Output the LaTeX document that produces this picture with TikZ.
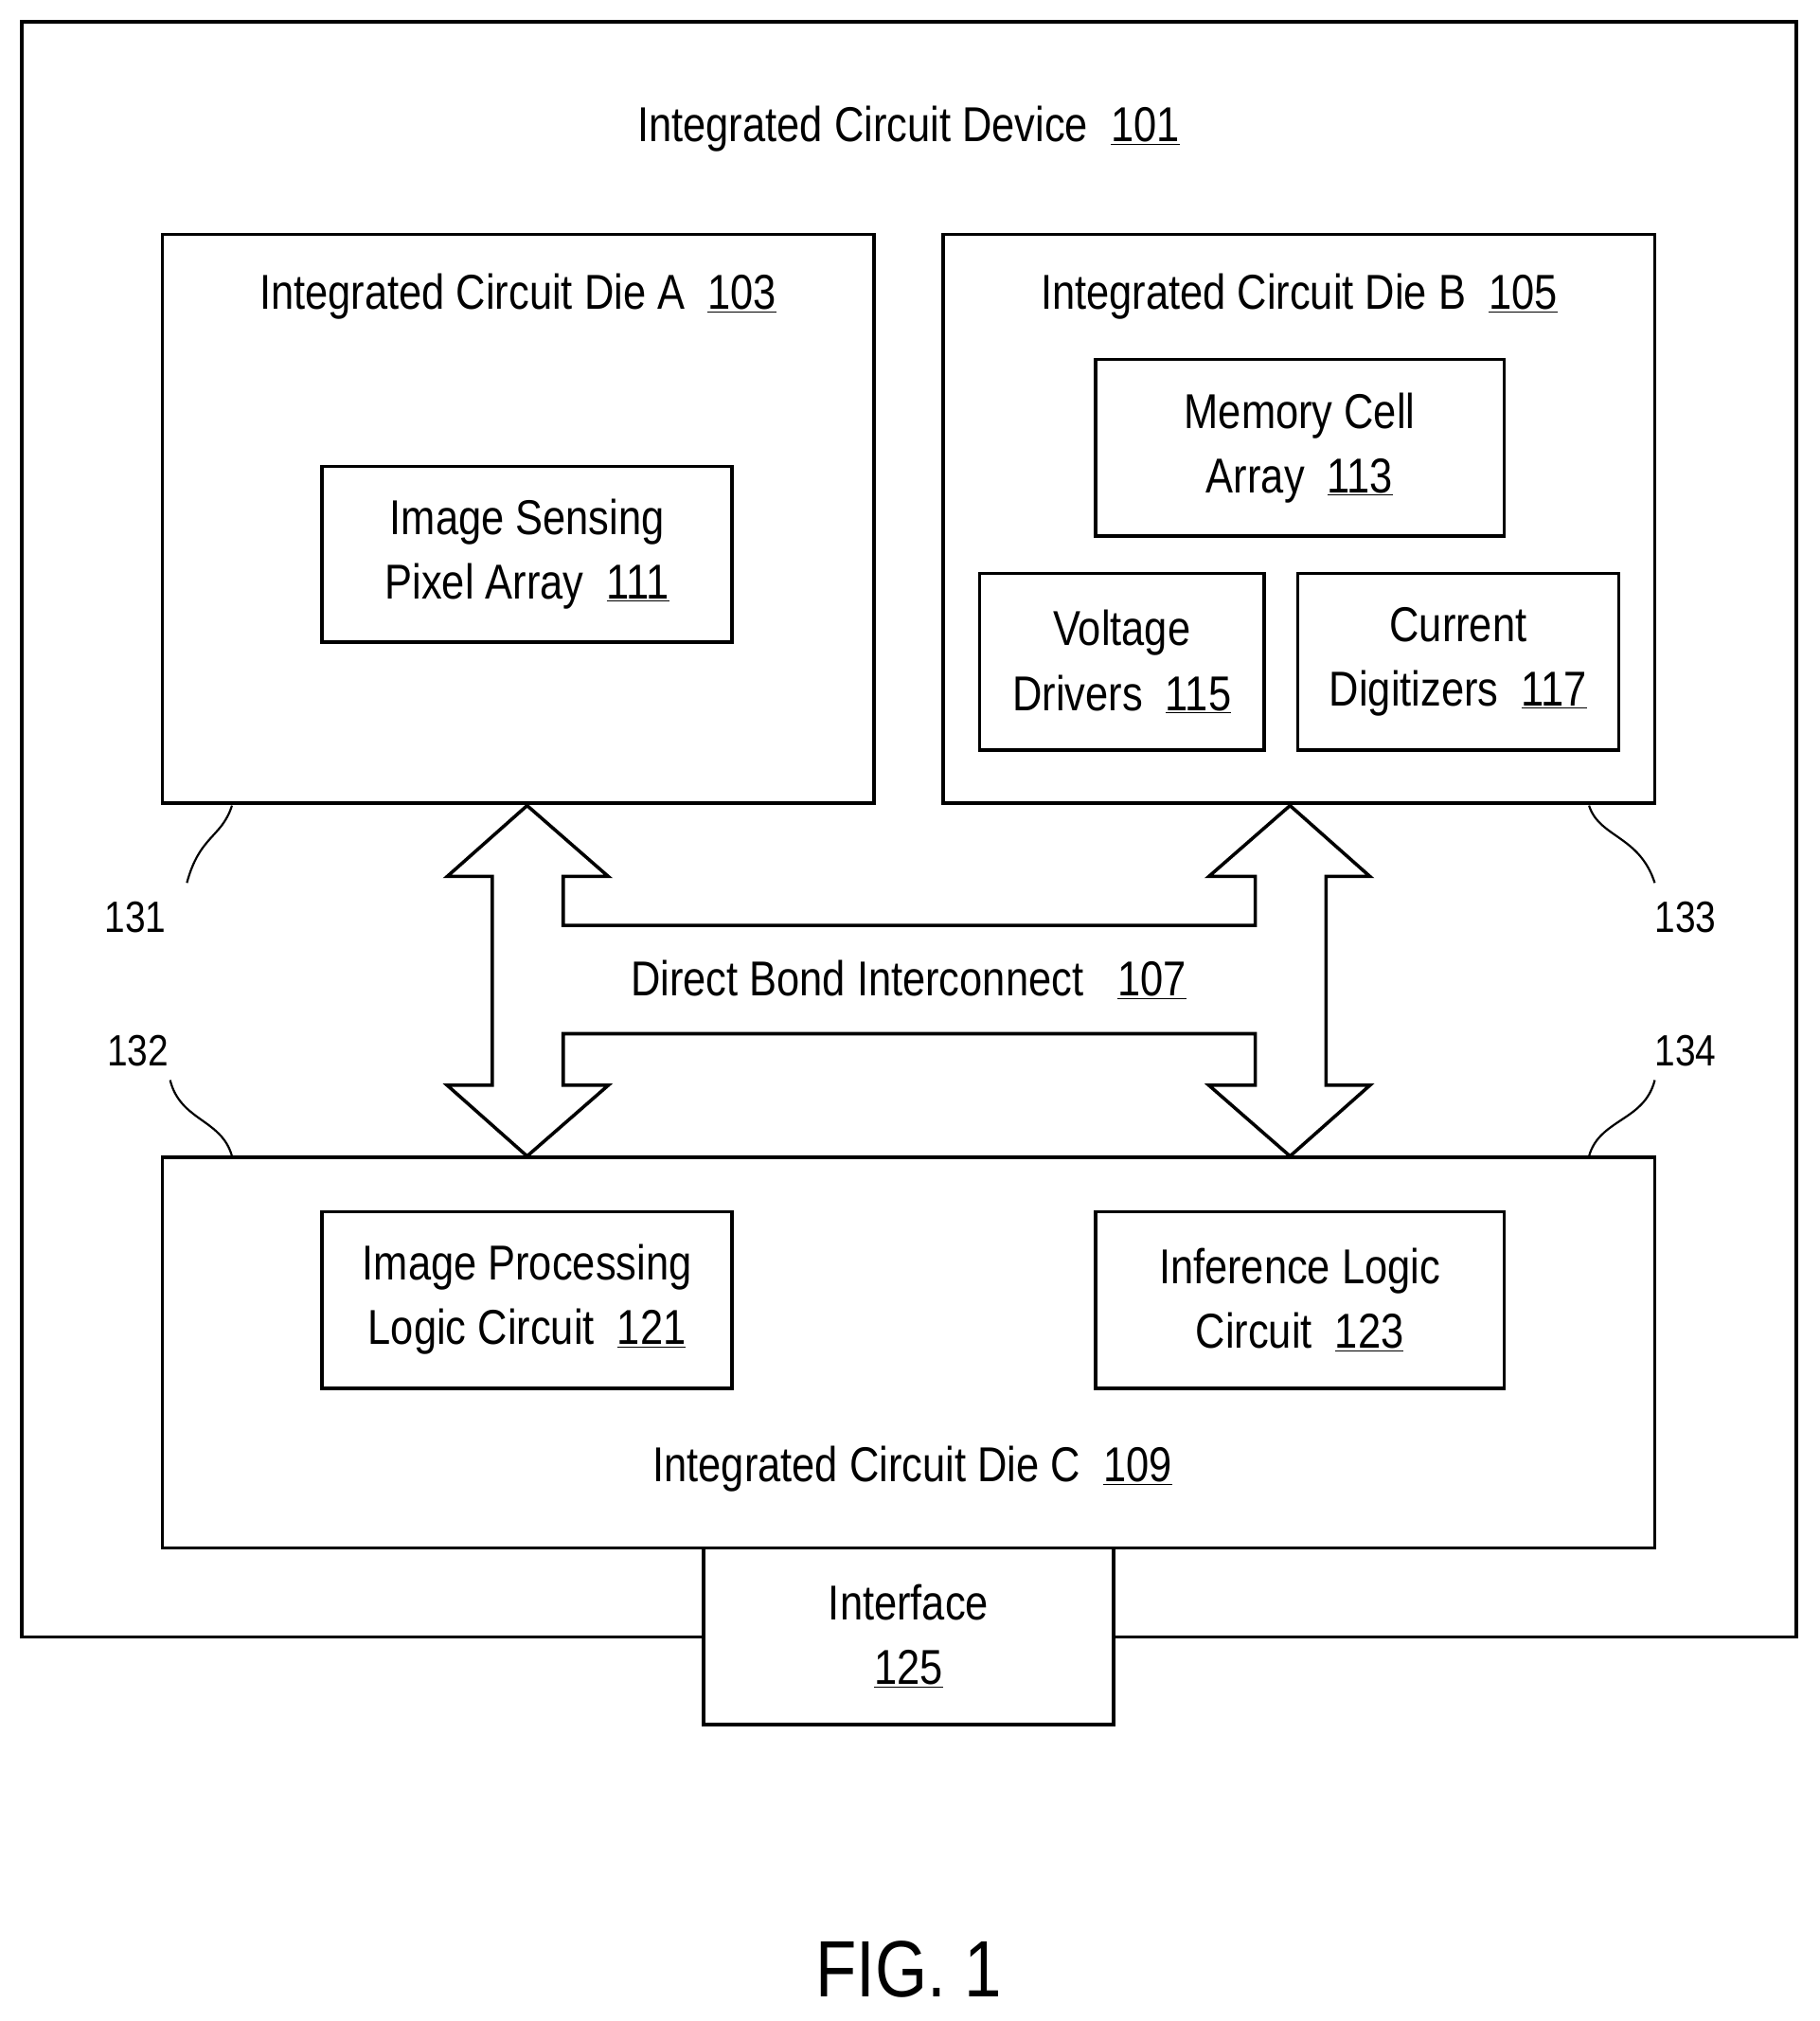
\documentclass[tikz,border=0pt]{standalone}
\usepackage{fontspec}
\setmainfont{Liberation Sans}[FakeStretch=0.84]
\begin{document}
\begin{tikzpicture}[x=1pt,y=-1pt,
  box/.style={draw,line width=2.6pt,inner sep=0pt},
  txt/.style={font=\fontsize{38}{50}\selectfont,align=center,inner sep=0pt},
  ln/.style={line width=1.6pt}]
\useasboundingbox (0,0) rectangle (1412,1568);
\newcommand{\rf}[1]{\underline{#1}}
\node[box,minimum width=1377,minimum height=1253] (dev) at (705.5,643.5) {};
\node[txt] (devt) at (705,100) {Integrated Circuit Device\ \ \rf{101}};
\node[box,minimum width=552,minimum height=441] (dieA) at (402,402.5) {};
\node[txt] (dieAt) at (402,230) {Integrated Circuit Die A\ \ \rf{103}};
\node[box,txt,minimum width=318,minimum height=136] (pix) at (409,430) {Image Sensing\\Pixel Array\ \ \rf{111}};
\node[box,minimum width=552,minimum height=441] (dieB) at (1008,402.5) {};
\node[txt] (dieBt) at (1008,230) {Integrated Circuit Die B\ \ \rf{105}};
\node[box,txt,minimum width=317,minimum height=137] (mem) at (1008.5,347.5) {Memory Cell\\Array\ \ \rf{113}};
\node[box,txt,minimum width=221,minimum height=137] (volt) at (870.5,513.5) {Voltage\\Drivers\ \ \rf{115}};
\node[box,txt,minimum width=249,minimum height=137] (cur) at (1131.5,513.5) {Current\\Digitizers\ \ \rf{117}};
\node[box,minimum width=1158,minimum height=303] (dieC) at (705,1049.5) {};
\node[txt] (dieCt) at (708,1140) {Integrated Circuit Die C\ \ \rf{109}};
\node[box,txt,minimum width=318,minimum height=137] (ipl) at (409,1008.5) {Image Processing\\Logic Circuit\ \ \rf{121}};
\node[box,txt,minimum width=317,minimum height=137] (inf) at (1008.5,1008.5) {Inference Logic\\Circuit\ \ \rf{123}};
\node[box,txt,fill=white,minimum width=318,minimum height=137] (ifc) at (705,1269.5) {Interface\\\rf{125}};
\node[txt] (dbi) at (705,760) {Direct Bond Interconnect\ \ \ \rf{107}};
\node[font=\fontsize{62}{70}\selectfont,inner sep=0pt] (fig) at (705,1528) {FIG. 1};
% bond arrows
\draw[line width=2.6pt,line join=miter]
 (409,625) -- (347,680) -- (382,680) -- (382,842) -- (347,842) -- (409,897) -- (472,842) -- (437,842)
 -- (437,802) -- (974,802) -- (974,842) -- (938,842) -- (1001,897) -- (1063,842) -- (1029,842)
 -- (1029,680) -- (1063,680) -- (1001,625) -- (938,680) -- (974,680) -- (974,718) -- (437,718)
 -- (437,680) -- (472,680) -- cycle;
% reference labels
\node[txt,font=\fontsize{34}{40}\selectfont] (l131) at (105,712) {131};
\node[txt,font=\fontsize{34}{40}\selectfont] (l132) at (107,815) {132};
\node[txt,font=\fontsize{34}{40}\selectfont] (l133) at (1308,712) {133};
\node[txt,font=\fontsize{34}{40}\selectfont] (l134) at (1308,815) {134};
\coordinate (a1) at (180,625); \coordinate (a2) at (145,685);
\coordinate (b1) at (132,838); \coordinate (b2) at (180,897);
\coordinate (c1) at (1233,625); \coordinate (c2) at (1284,685);
\coordinate (d1) at (1284,838); \coordinate (d2) at (1233,897);
\draw[ln] (a1) .. controls (172,650) and (155,648) .. (a2);
\draw[ln] (b1) .. controls (140,870) and (172,868) .. (b2);
\draw[ln] (c1) .. controls (1241,650) and (1272,648) .. (c2);
\draw[ln] (d1) .. controls (1276,870) and (1241,868) .. (d2);
\end{tikzpicture}
\end{document}
